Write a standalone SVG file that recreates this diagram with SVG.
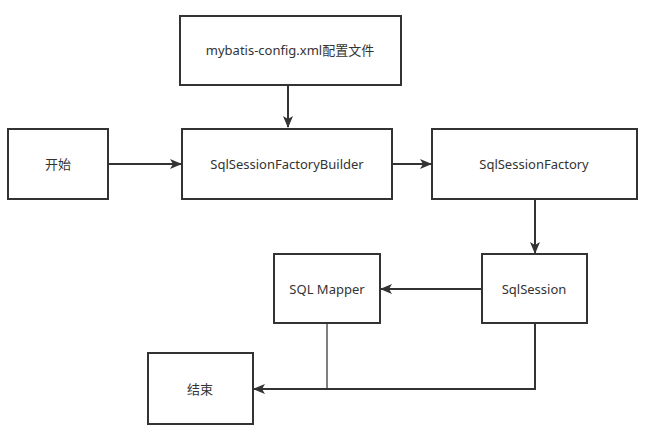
<svg xmlns="http://www.w3.org/2000/svg" width="647" height="433" viewBox="0 0 647 433">
<style>
.box{fill:#fff;stroke:#333;stroke-width:2}
.lbl{font-family:"Noto Sans","Noto Sans CJK SC",sans-serif;font-size:13px;fill:#333;text-anchor:middle;dominant-baseline:central}
.c{fill:none;stroke:#333;stroke-width:2}
</style>
<defs>
<marker id="ah" markerWidth="12" markerHeight="10" refX="11" refY="5" orient="auto" markerUnits="userSpaceOnUse">
<path d="M0,0 L12,5 L0,10 L3,5 Z" fill="#333"/>
</marker>
</defs>
<rect width="647" height="433" fill="#fff"/>
<g id="connectors">
<path class="c" d="M288,85 V127" marker-end="url(#ah)"/>
<path class="c" d="M108,164 H181" marker-end="url(#ah)"/>
<path class="c" d="M392,164 H431" marker-end="url(#ah)"/>
<path class="c" d="M535,199 V253" marker-end="url(#ah)"/>
<path class="c" d="M482,289 H381" marker-end="url(#ah)"/>
<path class="c" d="M327,323 V389" style="stroke:#555;stroke-width:1.5"/>
<path class="c" d="M535,323 V389 H254" marker-end="url(#ah)"/>
</g>
<g id="config"><rect class="box" x="180" y="16" width="221" height="69"/><text class="lbl" x="290" y="50">mybatis-config.xml配置文件</text></g>
<g id="start"><rect class="box" x="8" y="129" width="100" height="70"/><text class="lbl" x="58" y="164">开始</text></g>
<g id="builder"><rect class="box" x="182" y="129" width="210" height="70"/><text class="lbl" x="287" y="164">SqlSessionFactoryBuilder</text></g>
<g id="factory"><rect class="box" x="432" y="129" width="205" height="70"/><text class="lbl" x="534" y="164">SqlSessionFactory</text></g>
<g id="session"><rect class="box" x="482" y="254" width="105" height="69"/><text class="lbl" x="534" y="289">SqlSession</text></g>
<g id="mapper"><rect class="box" x="274" y="254" width="106" height="69"/><text class="lbl" x="327" y="289">SQL Mapper</text></g>
<g id="end"><rect class="box" x="148" y="353" width="105" height="71"/><text class="lbl" x="200" y="389">结束</text></g>
</svg>
